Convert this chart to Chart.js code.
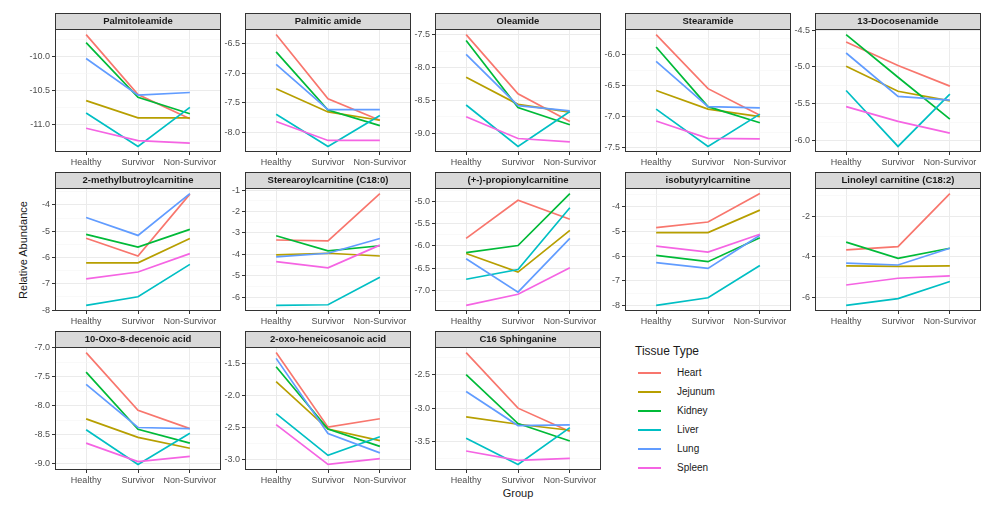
<!DOCTYPE html>
<html>
<head>
<meta charset="utf-8">
<script src="https://cdn.jsdelivr.net/npm/chart.js@4"></script>
<style>
  body { margin: 0; background: #fff; width: 982px; height: 505px; overflow: hidden; position: relative;
         font-family: "Liberation Sans", Arial, sans-serif; }
  .panel { position: absolute; }
  .ytitle { position: absolute; left: 23px; top: 250px; transform: translate(-50%, -50%) rotate(-90deg);
            font-size: 11px; color: #1a1a1a; white-space: nowrap; }
  .xtitle { position: absolute; left: 518px; top: 493px; transform: translate(-50%, -50%);
            font-size: 11px; color: #1a1a1a; }
  .legend { position: absolute; left: 635px; top: 344px; }
  .legend .title { font-size: 12px; color: #1a1a1a; margin-bottom: 6px; }
  .legend .item { position: relative; height: 19px; font-size: 10px; color: #1a1a1a; }
  .legend .key { position: absolute; left: 3px; top: 8px; width: 23px; height: 2px; }
  .legend .lab { position: absolute; left: 42px; top: 3px; }
</style>
</head>
<body>
<div class="ytitle">Relative Abundance</div>
<div class="xtitle">Group</div>
<div class="legend" id="legend"></div>

<script>
const groups = ['Healthy', 'Survivor', 'Non-Survivor'];
const tissues = ['Heart', 'Jejunum', 'Kidney', 'Liver', 'Lung', 'Spleen'];
const tissueColors = ['#F8766D', '#B79F00', '#00BA38', '#00BFC4', '#619CFF', '#F564E3'];

const compounds = [
  'Palmitoleamide', 'Palmitic amide', 'Oleamide', 'Stearamide', '13-Docosenamide',
  '2-methylbutroylcarnitine', 'Sterearoylcarnitine (C18:0)', '(+-)-propionylcarnitine',
  'isobutyrylcarnitine', 'Linoleyl carnitine (C18:2)',
  '10-Oxo-8-decenoic acid', '2-oxo-heneicosanoic acid', 'C16 Sphinganine'
];

// one row per tissue (Heart, Jejunum, Kidney, Liver, Lung, Spleen), values for Healthy/Survivor/Non-Survivor
const palmitoleamide = [[-9.67, -10.56, -10.92], [-10.65, -10.905, -10.905], [-9.79, -10.60, -10.845],
                        [-10.835, -11.33, -10.75], [-10.025, -10.57, -10.53], [-11.06, -11.245, -11.28]];
const palmiticAmide = [[-6.35, -7.43, -7.79], [-7.26, -7.65, -7.79], [-6.64, -7.62, -7.88],
                       [-7.69, -8.23, -7.71], [-6.85, -7.61, -7.61], [-7.81, -8.13, -8.13]];
const oleamide = [[-7.5, -8.40, -8.82], [-8.15, -8.56, -8.68], [-7.59, -8.61, -8.87],
                  [-8.57, -9.20, -8.67], [-7.80, -8.58, -8.66], [-8.75, -9.08, -9.13]];
const stearamide = [[-5.68, -6.55, -6.98], [-6.58, -6.88, -7.0], [-5.88, -6.84, -7.10],
                    [-6.88, -7.48, -6.96], [-6.11, -6.84, -6.86], [-7.07, -7.35, -7.36]];
const docosenamide = [[-4.66, -4.98, -5.26], [-4.99, -5.33, -5.46], [-4.56, -5.14, -5.71],
                      [-5.32, -6.08, -5.37], [-4.81, -5.40, -5.45], [-5.54, -5.74, -5.90]];
const methylbutroylcarnitine = [[-5.27, -5.94, -3.59], [-6.20, -6.20, -5.28], [-5.12, -5.60, -4.93],
                                [-7.82, -7.49, -6.26], [-4.48, -5.16, -3.57], [-6.81, -6.55, -5.85]];
const sterearoylcarnitine = [[-3.33, -3.37, -1.16], [-4.03, -3.95, -4.08], [-3.13, -3.84, -3.60],
                             [-6.39, -6.36, -5.07], [-4.12, -3.95, -3.26], [-4.34, -4.63, -3.57]];
const propionylcarnitine = [[-5.83, -4.97, -5.40], [-6.17, -6.59, -5.65], [-6.15, -5.99, -4.82],
                            [-6.75, -6.53, -5.14], [-6.29, -7.04, -5.83], [-7.34, -7.09, -6.49]];
const isobutyrylcarnitine = [[-4.85, -4.62, -3.47], [-5.05, -5.05, -4.14], [-5.97, -6.23, -5.26],
                             [-8.0, -7.69, -6.38], [-6.27, -6.50, -5.16], [-5.60, -5.84, -5.12]];
const linoleylcarnitine = [[-3.66, -3.50, -0.90], [-4.44, -4.47, -4.44], [-3.28, -4.07, -3.58],
                           [-6.38, -6.05, -5.21], [-4.31, -4.40, -3.58], [-5.38, -5.05, -4.93]];
const oxoDecenoicAcid = [[-7.08, -8.08, -8.40], [-8.23, -8.55, -8.74], [-7.42, -8.41, -8.65],
                         [-8.42, -9.02, -8.48], [-7.63, -8.38, -8.40], [-8.65, -8.97, -8.88]];
const oxoHeneicosanoicAcid = [[-1.33, -2.49, -2.36], [-1.78, -2.52, -2.70], [-1.55, -2.52, -2.79],
                              [-2.28, -2.93, -2.64], [-1.42, -2.59, -2.89], [-2.45, -3.07, -2.98]];
const sphinganine = [[-2.17, -3.0, -3.35], [-3.13, -3.24, -3.33], [-2.5, -3.23, -3.49],
                     [-3.45, -3.84, -3.29], [-2.75, -3.26, -3.25], [-3.64, -3.78, -3.75]];

const panelValues = [palmitoleamide, palmiticAmide, oleamide, stearamide, docosenamide,
  methylbutroylcarnitine, sterearoylcarnitine, propionylcarnitine, isobutyrylcarnitine, linoleylcarnitine,
  oxoDecenoicAcid, oxoHeneicosanoicAcid, sphinganine];

// y tick labels of each facet
const yTickLabels = [
  ['-10.0', '-10.5', '-11.0'],
  ['-6.5', '-7.0', '-7.5', '-8.0'],
  ['-7.5', '-8.0', '-8.5', '-9.0'],
  ['-6.0', '-6.5', '-7.0', '-7.5'],
  ['-4.5', '-5.0', '-5.5', '-6.0'],
  ['-4', '-5', '-6', '-7', '-8'],
  ['-1', '-2', '-3', '-4', '-5', '-6'],
  ['-5.0', '-5.5', '-6.0', '-6.5', '-7.0'],
  ['-4', '-5', '-6', '-7', '-8'],
  ['-2', '-4', '-6'],
  ['-7.0', '-7.5', '-8.0', '-8.5', '-9.0'],
  ['-1.5', '-2.0', '-2.5', '-3.0'],
  ['-2.5', '-3.0', '-3.5']
];

const FONT = '"Liberation Sans", Arial, sans-serif';
const STRIP = 16;

// grey strip above each panel + dark panel border (ggplot facet look)
const facetPlugin = {
  id: 'facet',
  afterDraw(chart, args, opts) {
    const { ctx, chartArea: a } = chart;
    ctx.save();
    ctx.strokeStyle = '#333333';
    ctx.lineWidth = 1;
    ctx.strokeRect(a.left + 0.5, a.top + 0.5, a.right - a.left - 1, a.bottom - a.top - 1);
    const top = a.top - STRIP;
    ctx.fillStyle = '#D9D9D9';
    ctx.fillRect(a.left, top, a.right - a.left, STRIP);
    ctx.strokeRect(a.left + 0.5, top + 0.5, a.right - a.left - 1, STRIP);
    ctx.fillStyle = '#1A1A1A';
    ctx.font = 'bold 9.5px ' + FONT;
    ctx.textAlign = 'center';
    ctx.textBaseline = 'middle';
    ctx.fillText(opts.title, (a.left + a.right) / 2, top + STRIP / 2 + 0.5);
    ctx.restore();
  }
};

function makePanel(i) {
  const col = i % 5, row = Math.floor(i / 5);
  const panelLeft = 55 + 190 * col;
  const stripTop = 13 + 159 * row;
  const div = document.createElement('div');
  div.className = 'panel';
  div.style.left = (panelLeft - 44) + 'px';
  div.style.top = stripTop + 'px';
  div.style.width = '211px';
  div.style.height = '157px';
  const canvas = document.createElement('canvas');
  div.appendChild(canvas);
  document.body.appendChild(div);

  const vals = panelValues[i];
  const labels = yTickLabels[i];
  const majors = labels.map(Number);
  const flat = vals.flat();
  const lo = Math.min(...flat), hi = Math.max(...flat);
  const pad = (hi - lo) * 0.05;
  const ymin = lo - pad, ymax = hi + pad;
  const step = Math.abs(majors[1] - majors[0]);
  const yTicks = majors.map(v => ({ value: v }));
  majors.forEach(m => [m - step / 2, m + step / 2].forEach(v => {
    if (v >= ymin && v <= ymax && !yTicks.some(t => Math.abs(t.value - v) < 1e-9)) {
      yTicks.push({ value: v, minor: true });
    }
  }));
  yTicks.sort((a, b) => a.value - b.value);

  const datasets = tissues.map((t, k) => ({
    label: t,
    data: groups.map((g, j) => ({ x: j + 1, y: vals[k][j] })),
    borderColor: tissueColors[k],
    borderWidth: 1.7,
    pointRadius: 0,
    tension: 0,
    fill: false
  })).reverse();

  new Chart(canvas, {
    type: 'line',
    data: { datasets },
    options: {
      responsive: true,
      maintainAspectRatio: false,
      animation: false,
      events: [],
      layout: { padding: { top: STRIP, right: 1, left: 0, bottom: 0 } },
      plugins: { legend: { display: false }, tooltip: { enabled: false }, facet: { title: compounds[i] } },
      scales: {
        x: {
          type: 'linear',
          min: 0.4,
          max: 3.6,
          afterBuildTicks: s => { s.ticks = [1, 2, 3].map(v => ({ value: v })); },
          afterFit: s => { s.height = 18; },
          grid: { color: '#EBEBEB', lineWidth: 1, tickLength: 3, tickColor: '#333333' },
          border: { display: false },
          ticks: {
            autoSkip: false, maxRotation: 0, padding: 2,
            color: '#4D4D4D', font: { family: FONT, size: 9 },
            callback: v => groups[v - 1]
          }
        },
        y: {
          type: 'linear',
          min: ymin,
          max: ymax,
          afterBuildTicks: s => { s.ticks = yTicks.map(t => ({ ...t })); },
          afterFit: s => { s.width = 44; },
          grid: {
            color: c => (c.tick && c.tick.minor) ? '#F5F5F5' : '#EBEBEB',
            lineWidth: c => (c.tick && c.tick.minor) ? 0.6 : 1,
            tickLength: 3,
            tickColor: c => (c.tick && c.tick.minor) ? 'rgba(0,0,0,0)' : '#333333'
          },
          border: { display: false },
          ticks: {
            autoSkip: false, padding: 2,
            color: '#4D4D4D', font: { family: FONT, size: 9 },
            callback: (v, idx, ts) => {
              if (ts[idx].minor) return '';
              const m = majors.findIndex(x => Math.abs(x - v) < 1e-9);
              return m >= 0 ? labels[m] : '';
            }
          }
        }
      }
    },
    plugins: [facetPlugin]
  });
}

compounds.forEach((c, i) => makePanel(i));

// legend
const legend = document.getElementById('legend');
legend.innerHTML = '<div class="title">Tissue Type</div>' + tissues.map((t, k) =>
  '<div class="item"><div class="key" style="background:' + tissueColors[k] + '"></div>' +
  '<div class="lab">' + t + '</div></div>').join('');
</script>
</body>
</html>
